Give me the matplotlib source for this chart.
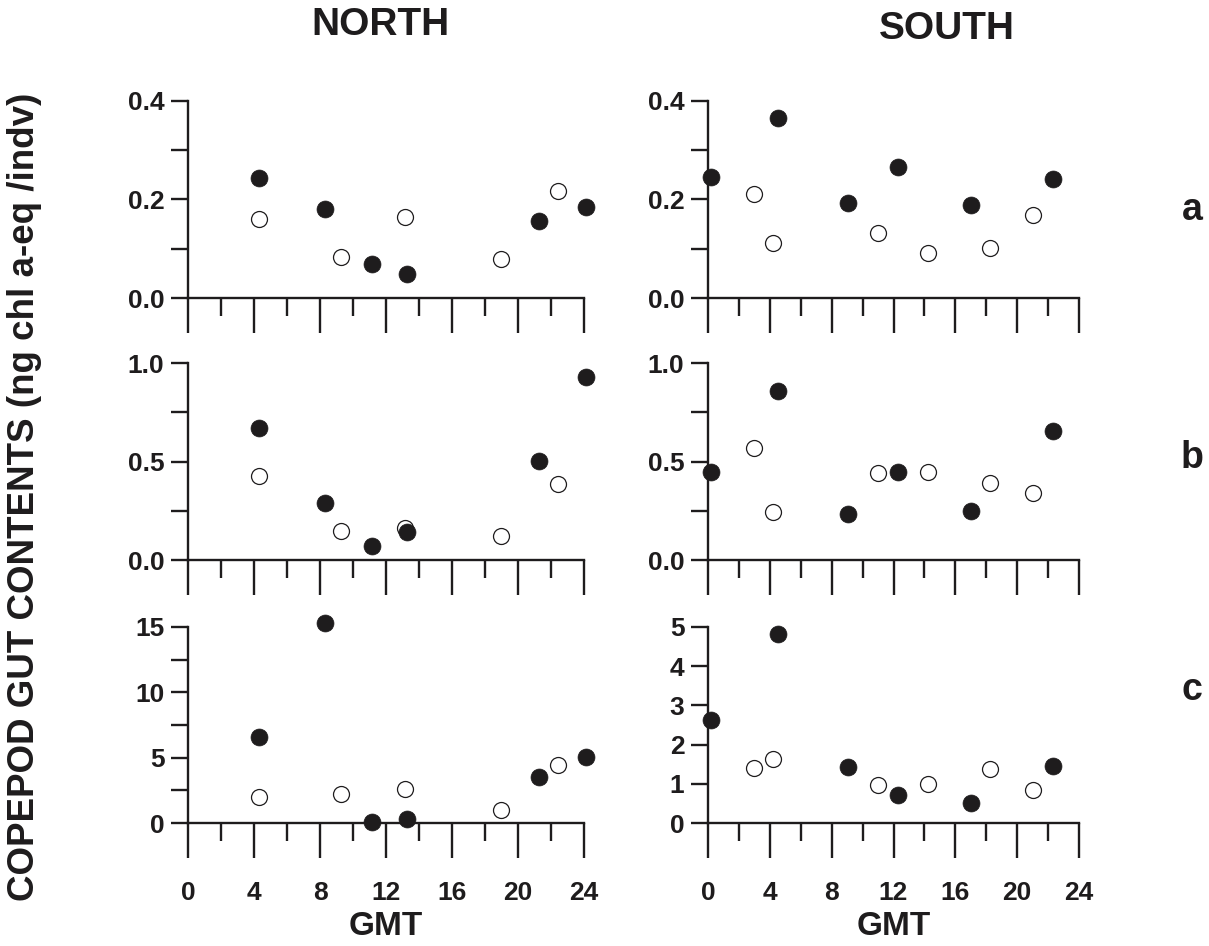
import matplotlib
matplotlib.use("Agg")
import matplotlib.pyplot as plt
from matplotlib.ticker import MultipleLocator

plt.rcParams['font.family'] = ['Liberation Sans', 'DejaVu Sans']
plt.rcParams['font.weight'] = 'bold'
INK = '#1e1c1d'

# GMT of the samples (filled = closed symbols, open = open symbols)
north_filled_t = [4.33, 8.28, 11.18, 13.26, 21.3, 24.14]
north_open_t = [4.33, 9.26, 13.15, 18.98, 22.43]
south_filled_t = [0.2, 4.55, 9.03, 12.3, 17.0, 22.33]
south_open_t = [3.0, 4.18, 11.02, 14.25, 18.27, 21.03]

# gut contents, rows a, b, c
north_filled = [
    [0.243, 0.181, 0.070, 0.048, 0.156, 0.184],
    [0.669, 0.290, 0.073, 0.142, 0.505, 0.927],
    [6.61, 15.31, 0.05, 0.28, 3.51, 5.03],
]
north_open = [
    [0.161, 0.084, 0.164, 0.079, 0.217],
    [0.427, 0.147, 0.164, 0.122, 0.385],
    [1.98, 2.21, 2.57, 1.02, 4.47],
]
south_filled = [
    [0.245, 0.365, 0.193, 0.266, 0.189, 0.242],
    [0.449, 0.856, 0.234, 0.449, 0.251, 0.653],
    [2.63, 4.81, 1.42, 0.71, 0.52, 1.46],
]
south_open = [
    [0.211, 0.111, 0.132, 0.091, 0.101, 0.168],
    [0.571, 0.244, 0.441, 0.449, 0.393, 0.339],
    [1.40, 1.64, 0.98, 0.99, 1.38, 0.85],
]

# y axis setup per panel: (top, minor step, major step)
north_yaxis = [(0.4, 0.1, 0.2), (1.0, 0.25, 0.5), (15, 2.5, 5)]
south_yaxis = [(0.4, 0.1, 0.2), (1.0, 0.25, 0.5), (5, 1, 1)]
row_letters = ['a', 'b', 'c']

W, H = 1209, 946
fig = plt.figure(figsize=(W / 100, H / 100), dpi=100)

col_x = [(188, 584), (708, 1079)]
row_y = [(101, 298), (363, 560), (627, 823)]


def style_axes(ax, ytop, ystep, ylab, bottom_row):
    ax.set_xlim(0, 24)
    ax.set_ylim(0, ytop)
    for s in ['top', 'right']:
        ax.spines[s].set_visible(False)
    for s in ['left', 'bottom']:
        ax.spines[s].set_linewidth(1.7)
        ax.spines[s].set_color(INK)
    ax.xaxis.set_major_locator(MultipleLocator(4))
    ax.xaxis.set_minor_locator(MultipleLocator(2))
    ax.yaxis.set_major_locator(MultipleLocator(ylab))
    ax.yaxis.set_minor_locator(MultipleLocator(ystep))
    ax.tick_params(axis='x', which='major', direction='out', length=25,
                   width=1.7, color=INK, labelsize=19, pad=17,
                   labelcolor=INK, labelbottom=bottom_row)
    ax.tick_params(axis='x', which='minor', direction='out', length=13,
                   width=1.7, color=INK)
    ax.tick_params(axis='y', which='both', direction='out', length=12,
                   width=1.7, color=INK, labelsize=19, pad=5,
                   labelcolor=INK)
    if bottom_row:
        ax.set_xlabel('GMT', fontsize=24, fontweight='bold', color=INK,
                      labelpad=4)


panels = [
    (north_filled_t, north_filled, north_open_t, north_open, north_yaxis),
    (south_filled_t, south_filled, south_open_t, south_open, south_yaxis),
]

for c, (ft, fvals, ot, ovals, yaxes) in enumerate(panels):
    x0, x1 = col_x[c]
    for r in range(3):
        y0, y1 = row_y[r]
        ax = fig.add_axes([x0 / W, 1 - y1 / H, (x1 - x0) / W, (y1 - y0) / H])
        ax.patch.set_visible(False)
        ytop, ystep, ylab = yaxes[r]
        style_axes(ax, ytop, ystep, ylab, r == 2)
        if ylab < 1:
            ax.yaxis.set_major_formatter(lambda v, p: f'{v:.1f}')
        else:
            ax.yaxis.set_major_formatter(lambda v, p: f'{v:.0f}')
        ax.plot(ot, ovals[r], 'o', ms=11.5, mfc='white', mec=INK, mew=0.9,
                clip_on=False, zorder=3)
        ax.plot(ft, fvals[r], 'o', ms=12.2, mfc=INK, mec=INK, mew=0.5,
                clip_on=False, zorder=4)

fig.text(380 / W, 1 - 25 / H, 'NORTH', fontsize=28, fontweight='bold',
         color=INK, ha='center', va='center')
fig.text(947 / W, 1 - 29 / H, 'SOUTH', fontsize=28, fontweight='bold',
         color=INK, ha='center', va='center')
fig.text(25 / W, 1 - 497 / H, 'COPEPOD GUT CONTENTS (ng chl a-eq /indv)',
         fontsize=26.5, fontweight='bold', color=INK, rotation=90,
         ha='center', va='center')
for letter, yy in zip(row_letters, [210, 458, 690]):
    fig.text(1192 / W, 1 - yy / H, letter, fontsize=27, fontweight='bold',
             color=INK, ha='center', va='center')

fig.savefig('out.png', dpi=100)
